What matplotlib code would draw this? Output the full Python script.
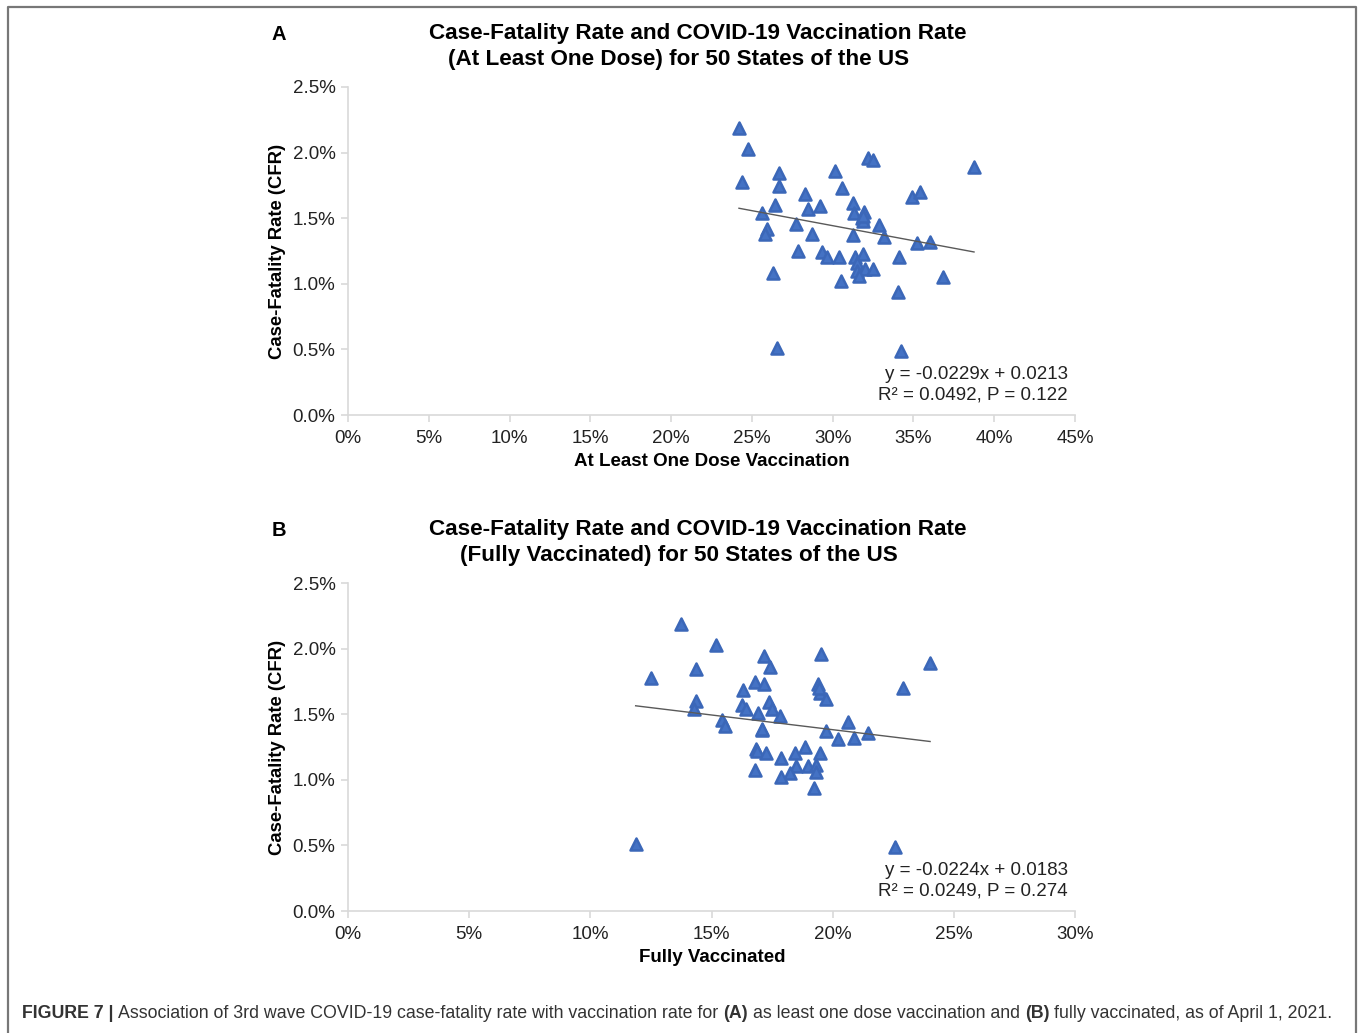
"""CFR vs vaccination rate scatter plots, two panels"""

import numpy as np
import matplotlib
matplotlib.use("Agg")
import matplotlib.pyplot as plt
from matplotlib.markers import MarkerStyle
from matplotlib.ticker import FuncFormatter
from matplotlib.lines import Line2D

plt.rcParams["font.family"] = ["Liberation Sans", "DejaVu Sans"]

# panel A: at least one dose (%), case-fatality rate (%)
dose_x = [24.20, 24.76, 24.37, 26.66, 26.66, 25.64, 26.41, 28.31, 28.49, 29.21,
          30.16, 30.56, 32.20, 32.48, 38.75, 34.93, 35.40, 25.93, 25.81, 27.75,
          28.74, 27.83, 26.29, 29.34, 29.67, 30.37, 30.53, 31.28, 31.32, 31.94,
          31.80, 31.86, 32.87, 31.28, 33.18, 31.40, 31.86, 31.49, 31.49, 31.98,
          31.65, 32.51, 34.10, 35.20, 36.04, 36.81, 34.02, 26.55, 34.25, 31.90]
dose_cfr = [2.185, 2.027, 1.778, 1.847, 1.745, 1.537, 1.598, 1.682, 1.570, 1.593,
            1.860, 1.733, 1.957, 1.944, 1.890, 1.659, 1.700, 1.418, 1.380, 1.453,
            1.377, 1.252, 1.080, 1.245, 1.207, 1.207, 1.021, 1.618, 1.542, 1.550,
            1.499, 1.481, 1.446, 1.372, 1.354, 1.207, 1.227, 1.156, 1.100, 1.110,
            1.062, 1.110, 1.207, 1.313, 1.319, 1.050, 0.940, 0.513, 0.488, 1.520]
dose_fit = (-0.0229, 0.0213)
dose_note = "y = -0.0229x + 0.0213\nR² = 0.0492, P = 0.122"

# panel B: fully vaccinated (%), case-fatality rate (%)
full_x = [13.75, 15.20, 12.52, 14.37, 17.18, 17.43, 19.52, 24.02, 16.81, 17.18,
          16.31, 22.89, 19.41, 19.48, 19.73, 14.36, 14.27, 16.27, 16.42, 16.91,
          17.39, 17.48, 17.83, 15.42, 15.57, 17.08, 20.62, 19.71, 20.22, 20.89,
          21.47, 16.85, 16.87, 17.25, 17.88, 18.45, 18.85, 19.49, 16.81, 18.49,
          18.99, 19.33, 19.33, 18.23, 17.88, 19.24, 11.87, 22.58, 17.10, 19.45]
full_cfr = [2.185, 2.030, 1.774, 1.842, 1.944, 1.857, 1.959, 1.890, 1.748, 1.730,
            1.682, 1.697, 1.733, 1.664, 1.613, 1.601, 1.537, 1.568, 1.540, 1.512,
            1.595, 1.540, 1.486, 1.456, 1.410, 1.382, 1.443, 1.370, 1.313, 1.321,
            1.354, 1.232, 1.217, 1.202, 1.166, 1.207, 1.252, 1.204, 1.075, 1.107,
            1.107, 1.110, 1.057, 1.050, 1.024, 0.935, 0.508, 0.486, 1.390, 1.700]
full_fit = (-0.0224, 0.0183)
full_note = "y = -0.0224x + 0.0183\nR² = 0.0249, P = 0.274"

BLUE = "#4472C4"
EDGE = "#3B67B8"
GRID = "#D9D9D9"

W, H = 1358, 1033
fig = plt.figure(figsize=(W / 100, H / 100), dpi=100)


def fx(px):
    return px / W


def fy(py):
    return 1 - py / H


def panel(top, xs, ys, fit, note, xmax, xlabel, subtitle, letter):
    """one scatter panel, top = pixel row of the 2.5% gridline"""
    ax = fig.add_axes([fx(348), fy(top + 328), fx(727), 328 / H])
    mk = MarkerStyle("^", joinstyle="round")
    ax.plot(xs, ys, ls="none", marker=mk, ms=8.8, mfc=BLUE, mec=EDGE, mew=1.8)
    lo, hi = min(xs), max(xs)
    fx_line = np.array([lo, hi])
    fy_line = (fit[0] * fx_line / 100 + fit[1]) * 100
    ax.plot(fx_line, fy_line, color="#595959", lw=1.0)

    ax.set_xlim(0, xmax)
    ax.set_ylim(0, 2.5)
    ax.set_xticks(np.arange(0, xmax + 0.1, 5))
    ax.set_yticks(np.arange(0, 2.51, 0.5))
    ax.xaxis.set_major_formatter(FuncFormatter(lambda v, p: f"{v:.0f}%"))
    ax.yaxis.set_major_formatter(FuncFormatter(lambda v, p: f"{v:.1f}%"))
    for s in ("top", "right"):
        ax.spines[s].set_visible(False)
    for s in ("left", "bottom"):
        ax.spines[s].set_color(GRID)
        ax.spines[s].set_linewidth(1.2)
    ax.tick_params(axis="both", colors=GRID, length=5, width=1.2,
                   labelsize=13.5, labelcolor="#222222")
    ax.tick_params(axis="x", pad=6)
    ax.tick_params(axis="y", pad=4)

    fig.text(fx(1068), fy(top + 298), note, ha="right", va="center",
             fontsize=13.5, linespacing=1.3, color="#222222")

    fig.text(fx(712), fy(top + 374), xlabel, ha="center", va="center",
             fontsize=13.5, fontweight="bold")
    fig.text(fx(277), fy(top + 164), "Case-Fatality Rate (CFR)", ha="center",
             va="center", rotation=90, fontsize=13.3, fontweight="bold")
    fig.text(fx(698), fy(top - 54), "Case-Fatality Rate and COVID-19 Vaccination Rate",
             ha="center", va="center", fontsize=16.2, fontweight="bold")
    fig.text(fx(679), fy(top - 28), subtitle, ha="center", va="center",
             fontsize=16.2, fontweight="bold")
    fig.text(fx(279), fy(top - 52), letter, ha="center", va="center",
             fontsize=14.5, fontweight="bold")
    return ax


axA = panel(87, dose_x, dose_cfr, dose_fit, dose_note, 45,
            "At Least One Dose Vaccination",
            "(At Least One Dose) for 50 States of the US", "A")
axB = panel(583, full_x, full_cfr, full_fit, full_note, 30,
            "Fully Vaccinated",
            "(Fully Vaccinated) for 50 States of the US", "B")

# outer frame (left, top, right)
frame = Line2D([fx(8), fx(8), fx(1356), fx(1356)],
               [0, fy(7), fy(7), 0], transform=fig.transFigure,
               color="#777777", lw=1.6)
fig.add_artist(frame)

# caption with mixed bold / regular pieces
pieces = [("FIGURE 7 |", "bold"),
          ("Association of 3rd wave COVID-19 case-fatality rate with vaccination rate for", "normal"),
          ("(A)", "bold"),
          ("as least one dose vaccination and", "normal"),
          ("(B)", "bold"),
          ("fully vaccinated, as of April 1, 2021.", "normal")]
cap_size = 12.8
renderer = fig.canvas.get_renderer()
probe1 = fig.text(0, 0, "x x", fontsize=cap_size)
probe2 = fig.text(0, 0, "xx", fontsize=cap_size)
gap = probe1.get_window_extent(renderer).width - probe2.get_window_extent(renderer).width
probe1.remove()
probe2.remove()
xpos = 22
for txt, wt in pieces:
    t = fig.text(fx(xpos), fy(1018), txt, ha="left", va="baseline",
                 fontsize=cap_size, fontweight=wt, color="#333333")
    xpos += t.get_window_extent(renderer).width + gap

fig.savefig("out.png", dpi=100)
